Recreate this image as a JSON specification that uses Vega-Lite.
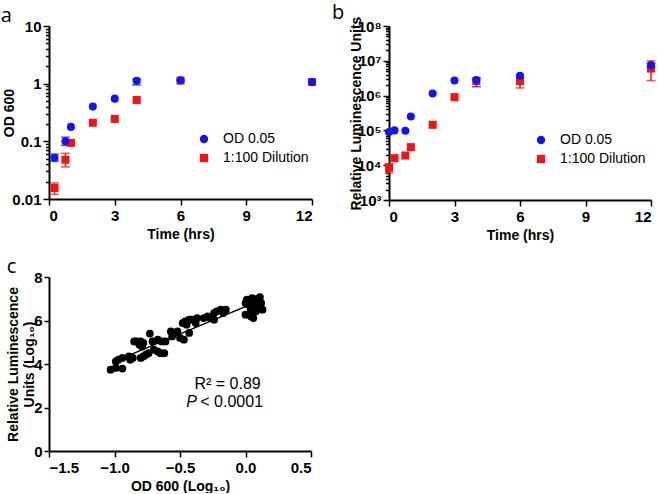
{
  "$schema": "https://vega.github.io/schema/vega-lite/v6.json",
  "padding": {"left": 0, "top": 3, "right": 0, "bottom": 0},
  "config": {
    "view": {"stroke": null},
    "font": "Liberation Sans",
    "axis": {
      "grid": false,
      "domainColor": "#000",
      "domainWidth": 2,
      "tickColor": "#000",
      "tickWidth": 1.5,
      "tickSize": 6,
      "labelFont": "Liberation Sans",
      "labelFontWeight": "bold",
      "labelFontSize": 15,
      "labelColor": "#000",
      "titleFont": "Liberation Sans",
      "titleFontWeight": "bold",
      "titleFontSize": 14,
      "titleColor": "#000",
      "labelPadding": 3
    },
    "legend": {
      "labelFont": "Liberation Sans",
      "labelFontSize": 14,
      "labelColor": "#000",
      "symbolSize": 70,
      "symbolStrokeWidth": 0,
      "rowPadding": 5,
      "labelOffset": 12,
      "padding": 0
    },
    "title": {"font": "Open Sans", "fontSize": 20, "fontWeight": "normal", "color": "#000", "anchor": "start", "frame": "bounds"}
  },
  "datasets": {
    "growth": [
      {"panel": "a", "series": "1:100 Dilution", "t": 0.25, "v": 0.0155, "lo": 0.012, "hi": 0.019},
      {"panel": "a", "series": "1:100 Dilution", "t": 0.75, "v": 0.048, "lo": 0.036, "hi": 0.062},
      {"panel": "a", "series": "1:100 Dilution", "t": 1, "v": 0.094},
      {"panel": "a", "series": "1:100 Dilution", "t": 2, "v": 0.21},
      {"panel": "a", "series": "1:100 Dilution", "t": 3, "v": 0.245},
      {"panel": "a", "series": "1:100 Dilution", "t": 4, "v": 0.52},
      {"panel": "a", "series": "1:100 Dilution", "t": 6, "v": 1.13},
      {"panel": "a", "series": "1:100 Dilution", "t": 12, "v": 1.07},
      {"panel": "a", "series": "OD 0.05", "t": 0.25, "v": 0.052, "lo": 0.045, "hi": 0.06},
      {"panel": "a", "series": "OD 0.05", "t": 0.75, "v": 0.1, "lo": 0.085, "hi": 0.118},
      {"panel": "a", "series": "OD 0.05", "t": 1, "v": 0.178},
      {"panel": "a", "series": "OD 0.05", "t": 2, "v": 0.4},
      {"panel": "a", "series": "OD 0.05", "t": 3, "v": 0.55},
      {"panel": "a", "series": "OD 0.05", "t": 4, "v": 1.12, "lo": 0.95, "hi": 1.2},
      {"panel": "a", "series": "OD 0.05", "t": 6, "v": 1.15},
      {"panel": "a", "series": "OD 0.05", "t": 12, "v": 1.07},
      {"panel": "b", "series": "1:100 Dilution", "t": 0, "v": 8500, "lo": 6000, "hi": 11000},
      {"panel": "b", "series": "1:100 Dilution", "t": 0.25, "v": 16000},
      {"panel": "b", "series": "1:100 Dilution", "t": 0.75, "v": 19000},
      {"panel": "b", "series": "1:100 Dilution", "t": 1, "v": 33000},
      {"panel": "b", "series": "1:100 Dilution", "t": 2, "v": 145000},
      {"panel": "b", "series": "1:100 Dilution", "t": 3, "v": 900000},
      {"panel": "b", "series": "1:100 Dilution", "t": 4, "v": 2600000},
      {"panel": "b", "series": "1:100 Dilution", "t": 6, "v": 2600000, "lo": 1650000, "hi": 3300000},
      {"panel": "b", "series": "1:100 Dilution", "t": 12, "v": 6000000, "lo": 2700000, "hi": 10000000},
      {"panel": "b", "series": "OD 0.05", "t": 0, "v": 90000},
      {"panel": "b", "series": "OD 0.05", "t": 0.25, "v": 100000},
      {"panel": "b", "series": "OD 0.05", "t": 0.75, "v": 98000},
      {"panel": "b", "series": "OD 0.05", "t": 1, "v": 250000},
      {"panel": "b", "series": "OD 0.05", "t": 2, "v": 1150000},
      {"panel": "b", "series": "OD 0.05", "t": 3, "v": 2700000},
      {"panel": "b", "series": "OD 0.05", "t": 4, "v": 2800000, "lo": 1800000, "hi": 3200000},
      {"panel": "b", "series": "OD 0.05", "t": 6, "v": 3700000},
      {"panel": "b", "series": "OD 0.05", "t": 12, "v": 7500000, "lo": 6500000, "hi": 8500000}
    ],
    "corr": [
      {"x": -1.03, "y": 3.74}, {"x": -0.99, "y": 3.82}, {"x": -0.94, "y": 3.79},
      {"x": -0.99, "y": 4.12}, {"x": -0.97, "y": 4.2}, {"x": -0.94, "y": 4.28},
      {"x": -0.89, "y": 4.35}, {"x": -0.86, "y": 4.28}, {"x": -0.88, "y": 4.2},
      {"x": -0.85, "y": 5.04}, {"x": -0.83, "y": 5.04}, {"x": -0.8, "y": 5.04},
      {"x": -0.78, "y": 4.97}, {"x": -0.81, "y": 4.89}, {"x": -0.79, "y": 4.81},
      {"x": -0.8, "y": 4.28}, {"x": -0.78, "y": 4.35}, {"x": -0.76, "y": 4.43},
      {"x": -0.74, "y": 4.5}, {"x": -0.73, "y": 5.4}, {"x": -0.71, "y": 5.04},
      {"x": -0.7, "y": 4.66}, {"x": -0.67, "y": 4.58}, {"x": -0.65, "y": 4.5},
      {"x": -0.62, "y": 4.5}, {"x": -0.67, "y": 5.12}, {"x": -0.64, "y": 5.04},
      {"x": -0.61, "y": 5.04}, {"x": -0.57, "y": 5.5}, {"x": -0.55, "y": 5.43},
      {"x": -0.52, "y": 5.5}, {"x": -0.56, "y": 5.27}, {"x": -0.5, "y": 5.2},
      {"x": -0.47, "y": 5.12}, {"x": -0.48, "y": 5.88}, {"x": -0.46, "y": 5.96},
      {"x": -0.43, "y": 6.04}, {"x": -0.41, "y": 6.04}, {"x": -0.45, "y": 5.81},
      {"x": -0.43, "y": 5.43}, {"x": -0.37, "y": 6.11}, {"x": -0.38, "y": 5.88},
      {"x": -0.32, "y": 6.11}, {"x": -0.29, "y": 6.19}, {"x": -0.27, "y": 6.11},
      {"x": -0.24, "y": 6.34}, {"x": -0.22, "y": 6.42}, {"x": -0.19, "y": 6.5},
      {"x": -0.15, "y": 6.5}, {"x": -0.17, "y": 6.34}, {"x": -0.24, "y": 6.04},
      {"x": 0.0, "y": 6.27}, {"x": 0.04, "y": 6.19}, {"x": 0.06, "y": 6.11},
      {"x": 0.01, "y": 6.96}, {"x": 0.05, "y": 7.03}, {"x": 0.09, "y": 6.99},
      {"x": 0.11, "y": 6.88}, {"x": 0.02, "y": 6.73}, {"x": 0.06, "y": 6.65},
      {"x": 0.1, "y": 6.68}, {"x": 0.13, "y": 6.5}, {"x": 0.04, "y": 6.5},
      {"x": 0.08, "y": 6.42}, {"x": 0.0, "y": 6.8}, {"x": 0.11, "y": 7.08},
      {"x": 0.12, "y": 6.8}, {"x": 0.07, "y": 6.85}
    ],
    "fit": [{"x": -1.0, "y": 4.12}, {"x": 0.04, "y": 6.74}],
    "stats": [
      {"x": -0.137, "y": 3.1, "label": "R² = 0.89", "kind": "r2"},
      {"x": -0.37, "y": 2.23, "label": "P", "kind": "p"},
      {"x": -0.345, "y": 2.23, "label": "< 0.0001", "kind": "pv"}
    ]
  },
  "vconcat": [
    {
      "hconcat": [
        {
          "width": 263,
          "height": 173,
          "title": {"text": "a", "offset": -7, "dx": -2},
          "data": {"name": "growth"},
          "transform": [{"filter": "datum.panel === 'a'"}],
          "encoding": {
            "x": {
              "field": "t", "type": "quantitative", "title": "Time (hrs)",
              "scale": {"domain": [0, 12], "nice": false},
              "axis": {"values": [0, 3, 6, 9, 12], "titlePadding": 4}
            }
          },
          "layer": [
            {
              "transform": [{"filter": "isValid(datum.lo)"}],
              "mark": {"type": "rule", "strokeWidth": 1.5},
              "encoding": {
                "y": {"field": "lo", "type": "quantitative", "title": "OD 600", "scale": {"type": "log", "domain": [0.01, 10], "nice": false}},
                "y2": {"field": "hi"},
                "color": {"condition": {"test": "datum.series === 'OD 0.05'", "value": "#1414f0"}, "value": "#f01414"}
              }
            },
            {
              "transform": [{"filter": "isValid(datum.lo)"}, {"fold": ["lo", "hi"], "as": ["end", "ev"]}],
              "mark": {"type": "tick", "orient": "horizontal", "size": 9, "thickness": 1.5},
              "encoding": {
                "y": {"field": "ev", "type": "quantitative", "title": "OD 600", "scale": {"type": "log", "domain": [0.01, 10], "nice": false}},
                "color": {"condition": {"test": "datum.series === 'OD 0.05'", "value": "#1414f0"}, "value": "#f01414"}
              }
            },
            {
              "mark": {"type": "point", "filled": true, "opacity": 1, "size": 65},
              "encoding": {
                "y": {
                  "field": "v", "type": "quantitative", "title": "OD 600",
                  "scale": {"type": "log", "domain": [0.01, 10], "nice": false},
                  "axis": {
                    "values": [0.01, 0.02, 0.03, 0.04, 0.05, 0.06, 0.07, 0.08, 0.09, 0.1, 0.2, 0.3, 0.4, 0.5, 0.6, 0.7, 0.8, 0.9, 1, 2, 3, 4, 5, 6, 7, 8, 9, 10],
                    "labelExpr": "datum.value == 10 ? '10' : datum.value == 1 ? '1' : datum.value == 0.1 ? '0.1' : datum.value == 0.01 ? '0.01' : ''",
                    "tickSize": {"condition": {"test": "indexof([0.01, 0.1, 1, 10], datum.value) >= 0", "value": 6}, "value": 3.5},
                    "labelPadding": 2,
                    "titlePadding": -5
                  }
                },
                "color": {
                  "field": "series", "type": "nominal", "title": null,
                  "scale": {"domain": ["OD 0.05", "1:100 Dilution"], "range": ["#1414f0", "#f01414"]},
                  "legend": {"orient": "none", "legendX": 148, "legendY": 106}
                },
                "shape": {
                  "field": "series", "type": "nominal", "title": null,
                  "scale": {"domain": ["OD 0.05", "1:100 Dilution"], "range": ["circle", "square"]},
                  "legend": {"orient": "none", "legendX": 148, "legendY": 106}
                }
              }
            }
          ]
        },
        {
          "width": 262,
          "height": 174,
          "title": {"text": "b", "offset": -7, "dx": -18},
          "data": {"name": "growth"},
          "transform": [{"filter": "datum.panel === 'b'"}],
          "encoding": {
            "x": {
              "field": "t", "type": "quantitative", "title": "Time (hrs)",
              "scale": {"domain": [0, 12], "nice": false},
              "axis": {"values": [0, 3, 6, 9, 12], "titlePadding": 4}
            }
          },
          "layer": [
            {
              "transform": [{"filter": "isValid(datum.lo)"}],
              "mark": {"type": "rule", "strokeWidth": 1.5},
              "encoding": {
                "y": {"field": "lo", "type": "quantitative", "title": "Relative Luminescence Units", "scale": {"type": "log", "domain": [1000, 100000000], "nice": false}},
                "y2": {"field": "hi"},
                "color": {"condition": {"test": "datum.series === 'OD 0.05'", "value": "#1414f0"}, "value": "#f01414"}
              }
            },
            {
              "transform": [{"filter": "isValid(datum.lo)"}, {"fold": ["lo", "hi"], "as": ["end", "ev"]}],
              "mark": {"type": "tick", "orient": "horizontal", "size": 9, "thickness": 1.5},
              "encoding": {
                "y": {"field": "ev", "type": "quantitative", "title": "Relative Luminescence Units", "scale": {"type": "log", "domain": [1000, 100000000], "nice": false}},
                "color": {"condition": {"test": "datum.series === 'OD 0.05'", "value": "#1414f0"}, "value": "#f01414"}
              }
            },
            {
              "mark": {"type": "point", "filled": true, "opacity": 1, "size": 65},
              "encoding": {
                "y": {
                  "field": "v", "type": "quantitative", "title": "Relative Luminescence Units",
                  "scale": {"type": "log", "domain": [1000, 100000000], "nice": false},
                  "axis": {
                    "values": [1000, 2000, 3000, 4000, 5000, 6000, 7000, 8000, 9000, 10000, 20000, 30000, 40000, 50000, 60000, 70000, 80000, 90000, 100000, 200000, 300000, 400000, 500000, 600000, 700000, 800000, 900000, 1000000, 2000000, 3000000, 4000000, 5000000, 6000000, 7000000, 8000000, 9000000, 10000000, 20000000, 30000000, 40000000, 50000000, 60000000, 70000000, 80000000, 90000000, 100000000],
                    "labelExpr": "datum.value == 1000 ? '10³' : datum.value == 10000 ? '10⁴' : datum.value == 100000 ? '10⁵' : datum.value == 1000000 ? '10⁶' : datum.value == 10000000 ? '10⁷' : datum.value == 100000000 ? '10⁸' : ''",
                    "tickSize": {"condition": {"test": "indexof([1000, 10000, 100000, 1000000, 10000000, 100000000], datum.value) >= 0", "value": 6}, "value": 3.5},
                    "labelPadding": 2,
                    "titlePadding": -7
                  }
                },
                "color": {
                  "field": "series", "type": "nominal", "title": null,
                  "scale": {"domain": ["OD 0.05", "1:100 Dilution"], "range": ["#1414f0", "#f01414"]},
                  "legend": {"orient": "none", "legendX": 145, "legendY": 107}
                },
                "shape": {
                  "field": "series", "type": "nominal", "title": null,
                  "scale": {"domain": ["OD 0.05", "1:100 Dilution"], "range": ["circle", "square"]},
                  "legend": {"orient": "none", "legendX": 145, "legendY": 107}
                }
              }
            }
          ]
        }
      ],
      "spacing": 14,
      "resolve": {"scale": {"y": "independent", "color": "independent", "shape": "independent"}, "legend": {"color": "independent", "shape": "independent"}}
    },
    {
      "width": 262,
      "height": 174,
      "title": {"text": "c", "offset": -7, "dx": 0},
      "layer": [
        {
          "data": {"name": "corr"},
          "mark": {"type": "circle", "color": "#000", "opacity": 1, "size": 60},
          "encoding": {
            "x": {
              "field": "x", "type": "quantitative", "title": "OD 600 (Log₁₀)",
              "scale": {"domain": [-1.5, 0.5], "nice": false},
              "axis": {"values": [-1.5, -1.0, -0.5, 0.0, 0.5], "format": ".1f", "titlePadding": 4}
            },
            "y": {
              "field": "y", "type": "quantitative", "title": ["Relative Luminescence", "Units (Log₁₀)"],
              "scale": {"domain": [0, 8], "nice": false},
              "axis": {"values": [0, 2, 4, 6, 8], "titlePadding": -3, "titleLineHeight": 16, "labelPadding": 2, "tickSize": 5}
            }
          }
        },
        {
          "data": {"name": "fit"},
          "mark": {"type": "line", "color": "#000", "strokeWidth": 1.5},
          "encoding": {
            "x": {"field": "x", "type": "quantitative"},
            "y": {"field": "y", "type": "quantitative"}
          }
        },
        {
          "data": {"name": "stats"},
          "transform": [{"filter": "datum.kind === 'r2'"}],
          "mark": {"type": "text", "font": "Liberation Sans", "fontSize": 16, "align": "center", "baseline": "middle", "color": "#000"},
          "encoding": {
            "x": {"field": "x", "type": "quantitative"},
            "y": {"field": "y", "type": "quantitative"},
            "text": {"field": "label"}
          }
        },
        {
          "data": {"name": "stats"},
          "transform": [{"filter": "datum.kind === 'p'"}],
          "mark": {"type": "text", "font": "Liberation Sans", "fontSize": 16, "fontStyle": "italic", "align": "right", "baseline": "middle", "color": "#000"},
          "encoding": {
            "x": {"field": "x", "type": "quantitative"},
            "y": {"field": "y", "type": "quantitative"},
            "text": {"field": "label"}
          }
        },
        {
          "data": {"name": "stats"},
          "transform": [{"filter": "datum.kind === 'pv'"}],
          "mark": {"type": "text", "font": "Liberation Sans", "fontSize": 16, "align": "left", "baseline": "middle", "color": "#000"},
          "encoding": {
            "x": {"field": "x", "type": "quantitative"},
            "y": {"field": "y", "type": "quantitative"},
            "text": {"field": "label"}
          }
        }
      ]
    }
  ],
  "spacing": 15
}
